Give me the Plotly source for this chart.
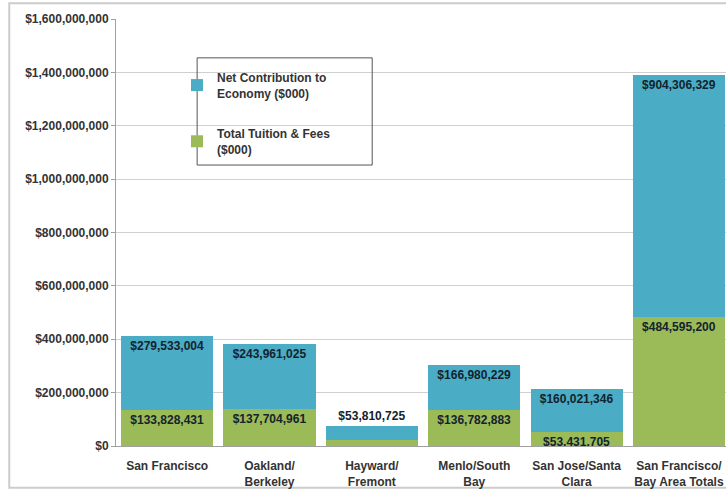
import plotly.graph_objects as go

# Regions and their stacked components
regions = [
    "San Francisco",
    "Oakland/<br>Berkeley",
    "Hayward/<br>Fremont",
    "Menlo/South<br>Bay",
    "San Jose/Santa<br>Clara",
    "San Francisco/<br>Bay Area Totals",
]
tuition_fees = [133828431, 137704961, 22926212, 136782883, 53431705, 484595200]
net_contribution = [279533004, 243961025, 53810725, 166980229, 160021346, 904306329]

# Which value labels are drawn, and where
tuition_text = ["$133,828,431", "$137,704,961", "", "$136,782,883", "$53,431,705", "$484,595,200"]
net_text = ["$279,533,004", "$243,961,025", "$53,810,725", "$166,980,229", "$160,021,346", "$904,306,329"]
net_textpos = ["inside", "inside", "outside", "inside", "inside", "inside"]

y_ticks = list(range(0, 1600000001, 200000000))

BLUE = "#4BACC6"
GREEN = "#9BBB59"
FONT = "Liberation Sans"
LABEL_COLOR = "#13232c"

fig = go.Figure()
fig.add_trace(go.Bar(
    x=regions, y=tuition_fees, name="Total Tuition & Fees<br>($000)",
    marker=dict(color=GREEN, line=dict(width=0)),
    text=tuition_text, textposition="inside", insidetextanchor="end",
    textfont=dict(family=FONT, size=12, color=LABEL_COLOR, weight="bold"),
    legendgroup="b", legendrank=2, hoverinfo="skip",
))
fig.add_trace(go.Bar(
    x=regions, y=net_contribution, name="Net Contribution to<br>Economy ($000)",
    marker=dict(color=BLUE, line=dict(width=0)),
    text=net_text, textposition=net_textpos, insidetextanchor="end",
    textfont=dict(family=FONT, size=12, color=LABEL_COLOR, weight="bold"),
    cliponaxis=False, legendgroup="a", legendrank=1, hoverinfo="skip",
))

fig.update_layout(
    width=726, height=492,
    margin=dict(l=116, r=0, t=19, b=46),
    barmode="stack", bargap=0.1,
    plot_bgcolor="white", paper_bgcolor="white",
    font=dict(family=FONT, size=12, color="#333333", weight="bold"),
    uniformtext=dict(minsize=12, mode="show"),
    showlegend=True,
    legend=dict(
        x=0.1, y=0.897, xanchor="left", yanchor="top",
        bgcolor="rgba(0,0,0,0)", borderwidth=0,
        traceorder="grouped",
        font=dict(family=FONT, size=12, color="#333333", weight="bold"),
        tracegroupgap=22, itemwidth=30,
    ),
    xaxis=dict(
        range=[-0.5, 5.46], showgrid=False,
        showline=True, linecolor="#a0a0a0", linewidth=1,
        ticks="", ticklabelstandoff=9,
        tickfont=dict(family=FONT, size=12, color="#333333", weight="bold"),
    ),
    yaxis=dict(
        range=[0, 1600000000], tickvals=y_ticks, tickformat="$,.0f",
        showgrid=True, gridcolor="#d0d0d0", gridwidth=1,
        showline=True, linecolor="#a0a0a0", linewidth=1,
        ticks="outside", ticklen=4, tickcolor="#a0a0a0",
        zeroline=False,
        tickfont=dict(family=FONT, size=12, color="#333333", weight="bold"),
    ),
    shapes=[
        # outer chart frame
        dict(type="rect", xref="paper", yref="paper",
             x0=-0.175, x1=1.05, y0=-0.098, y1=1.037,
             line=dict(color="#cccccc", width=2), layer="below"),
        # legend box
        dict(type="rect", xref="paper", yref="paper",
             x0=0.133, x1=0.42, y0=0.658, y1=0.909,
             line=dict(color="#555555", width=1)),
    ],
)

fig.write_html("out.html")
